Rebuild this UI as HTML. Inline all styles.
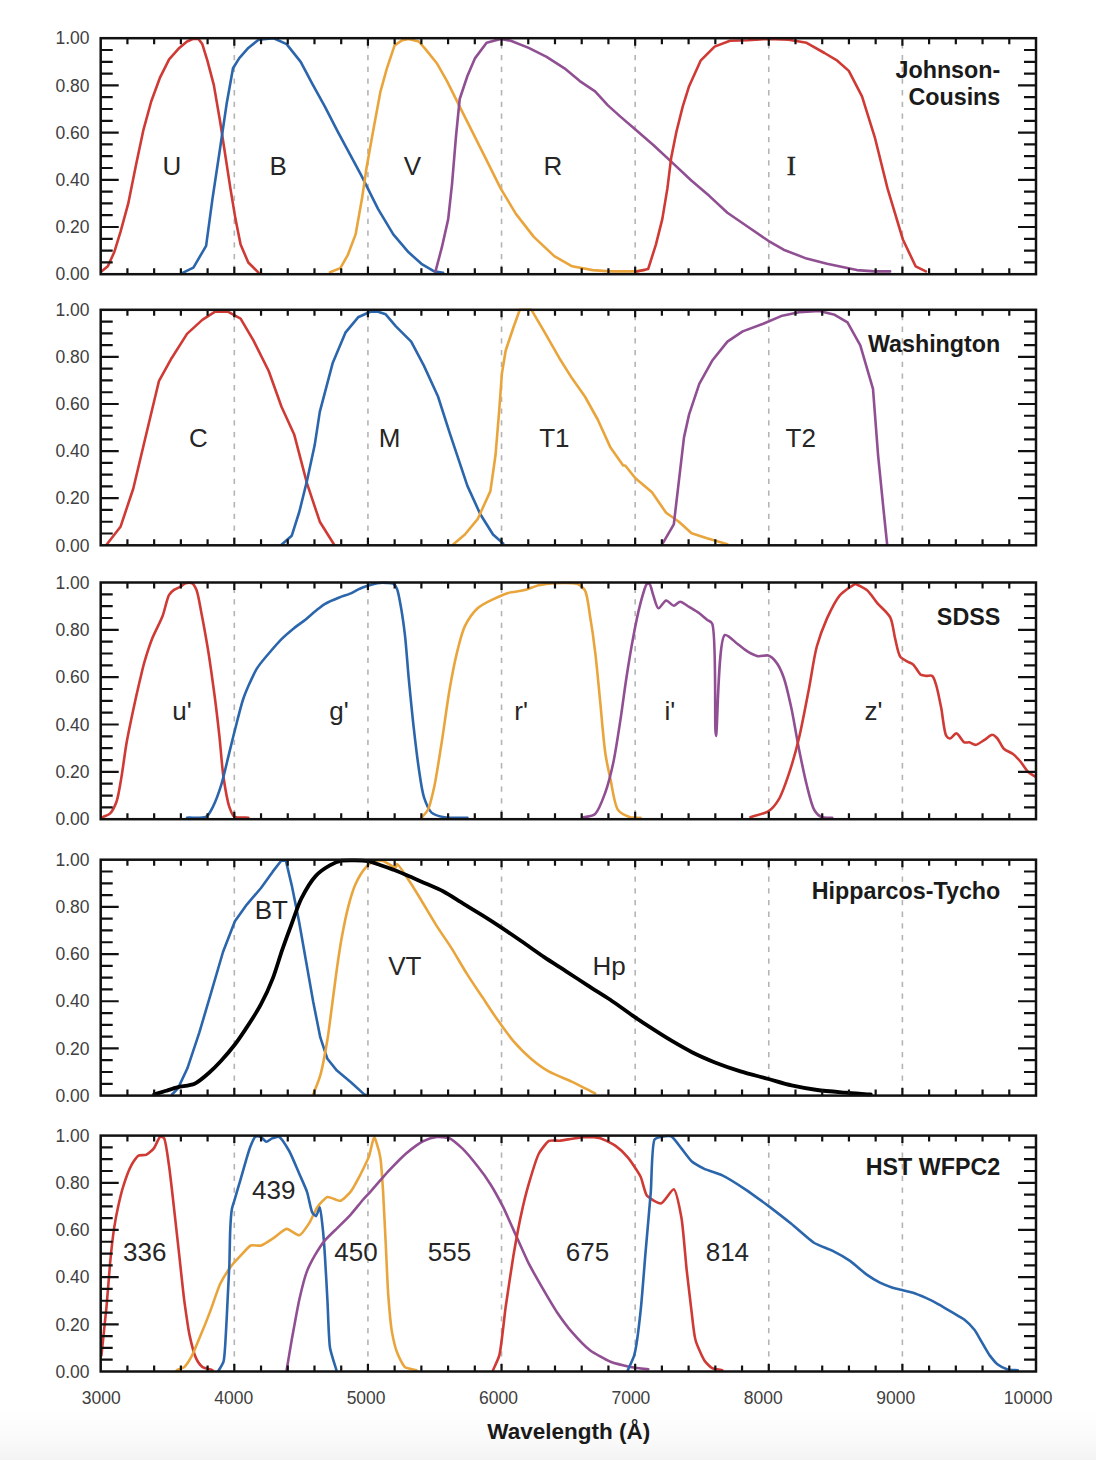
<!DOCTYPE html><html><head><meta charset="utf-8"><style>html,body{margin:0;padding:0;background:#fff;}body{width:1096px;height:1460px;overflow:hidden;position:relative;}svg{position:absolute;left:0;top:0;}</style></head><body>
<svg width="1096" height="1460" viewBox="0 0 1096 1460">
<defs><linearGradient id="bg" x1="0" y1="0" x2="0" y2="1"><stop offset="0" stop-color="#ffffff"/><stop offset="0.5" stop-color="#fbfbfb"/><stop offset="0.8" stop-color="#f7f7f7"/><stop offset="1" stop-color="#f3f3f3"/></linearGradient><clipPath id="clipR"><rect x="0" y="0" width="1059" height="1460"/></clipPath></defs>
<rect x="0" y="1410" width="1096" height="50" fill="url(#bg)"/>
<line x1="234.31" y1="38.20" x2="234.31" y2="274.20" stroke="#b4b4b4" stroke-width="1.6" stroke-dasharray="5.3 6.4" stroke-dashoffset="6.6"/>
<line x1="367.93" y1="38.20" x2="367.93" y2="274.20" stroke="#b4b4b4" stroke-width="1.6" stroke-dasharray="5.3 6.4" stroke-dashoffset="6.6"/>
<line x1="501.54" y1="38.20" x2="501.54" y2="274.20" stroke="#b4b4b4" stroke-width="1.6" stroke-dasharray="5.3 6.4" stroke-dashoffset="6.6"/>
<line x1="635.16" y1="38.20" x2="635.16" y2="274.20" stroke="#b4b4b4" stroke-width="1.6" stroke-dasharray="5.3 6.4" stroke-dashoffset="6.6"/>
<line x1="768.77" y1="38.20" x2="768.77" y2="274.20" stroke="#b4b4b4" stroke-width="1.6" stroke-dasharray="5.3 6.4" stroke-dashoffset="6.6"/>
<line x1="902.39" y1="38.20" x2="902.39" y2="274.20" stroke="#b4b4b4" stroke-width="1.6" stroke-dasharray="5.3 6.4" stroke-dashoffset="6.6"/>
<line x1="234.31" y1="309.80" x2="234.31" y2="545.30" stroke="#b4b4b4" stroke-width="1.6" stroke-dasharray="5.3 6.4" stroke-dashoffset="6.6"/>
<line x1="367.93" y1="309.80" x2="367.93" y2="545.30" stroke="#b4b4b4" stroke-width="1.6" stroke-dasharray="5.3 6.4" stroke-dashoffset="6.6"/>
<line x1="501.54" y1="309.80" x2="501.54" y2="545.30" stroke="#b4b4b4" stroke-width="1.6" stroke-dasharray="5.3 6.4" stroke-dashoffset="6.6"/>
<line x1="635.16" y1="309.80" x2="635.16" y2="545.30" stroke="#b4b4b4" stroke-width="1.6" stroke-dasharray="5.3 6.4" stroke-dashoffset="6.6"/>
<line x1="768.77" y1="309.80" x2="768.77" y2="545.30" stroke="#b4b4b4" stroke-width="1.6" stroke-dasharray="5.3 6.4" stroke-dashoffset="6.6"/>
<line x1="902.39" y1="309.80" x2="902.39" y2="545.30" stroke="#b4b4b4" stroke-width="1.6" stroke-dasharray="5.3 6.4" stroke-dashoffset="6.6"/>
<line x1="234.31" y1="582.50" x2="234.31" y2="819.20" stroke="#b4b4b4" stroke-width="1.6" stroke-dasharray="5.3 6.4" stroke-dashoffset="6.6"/>
<line x1="367.93" y1="582.50" x2="367.93" y2="819.20" stroke="#b4b4b4" stroke-width="1.6" stroke-dasharray="5.3 6.4" stroke-dashoffset="6.6"/>
<line x1="501.54" y1="582.50" x2="501.54" y2="819.20" stroke="#b4b4b4" stroke-width="1.6" stroke-dasharray="5.3 6.4" stroke-dashoffset="6.6"/>
<line x1="635.16" y1="582.50" x2="635.16" y2="819.20" stroke="#b4b4b4" stroke-width="1.6" stroke-dasharray="5.3 6.4" stroke-dashoffset="6.6"/>
<line x1="768.77" y1="582.50" x2="768.77" y2="819.20" stroke="#b4b4b4" stroke-width="1.6" stroke-dasharray="5.3 6.4" stroke-dashoffset="6.6"/>
<line x1="902.39" y1="582.50" x2="902.39" y2="819.20" stroke="#b4b4b4" stroke-width="1.6" stroke-dasharray="5.3 6.4" stroke-dashoffset="6.6"/>
<line x1="234.31" y1="859.70" x2="234.31" y2="1095.60" stroke="#b4b4b4" stroke-width="1.6" stroke-dasharray="5.3 6.4" stroke-dashoffset="6.6"/>
<line x1="367.93" y1="859.70" x2="367.93" y2="1095.60" stroke="#b4b4b4" stroke-width="1.6" stroke-dasharray="5.3 6.4" stroke-dashoffset="6.6"/>
<line x1="501.54" y1="859.70" x2="501.54" y2="1095.60" stroke="#b4b4b4" stroke-width="1.6" stroke-dasharray="5.3 6.4" stroke-dashoffset="6.6"/>
<line x1="635.16" y1="859.70" x2="635.16" y2="1095.60" stroke="#b4b4b4" stroke-width="1.6" stroke-dasharray="5.3 6.4" stroke-dashoffset="6.6"/>
<line x1="768.77" y1="859.70" x2="768.77" y2="1095.60" stroke="#b4b4b4" stroke-width="1.6" stroke-dasharray="5.3 6.4" stroke-dashoffset="6.6"/>
<line x1="902.39" y1="859.70" x2="902.39" y2="1095.60" stroke="#b4b4b4" stroke-width="1.6" stroke-dasharray="5.3 6.4" stroke-dashoffset="6.6"/>
<line x1="234.31" y1="1135.60" x2="234.31" y2="1371.50" stroke="#b4b4b4" stroke-width="1.6" stroke-dasharray="5.3 6.4" stroke-dashoffset="6.6"/>
<line x1="367.93" y1="1135.60" x2="367.93" y2="1371.50" stroke="#b4b4b4" stroke-width="1.6" stroke-dasharray="5.3 6.4" stroke-dashoffset="6.6"/>
<line x1="501.54" y1="1135.60" x2="501.54" y2="1371.50" stroke="#b4b4b4" stroke-width="1.6" stroke-dasharray="5.3 6.4" stroke-dashoffset="6.6"/>
<line x1="635.16" y1="1135.60" x2="635.16" y2="1371.50" stroke="#b4b4b4" stroke-width="1.6" stroke-dasharray="5.3 6.4" stroke-dashoffset="6.6"/>
<line x1="768.77" y1="1135.60" x2="768.77" y2="1371.50" stroke="#b4b4b4" stroke-width="1.6" stroke-dasharray="5.3 6.4" stroke-dashoffset="6.6"/>
<line x1="902.39" y1="1135.60" x2="902.39" y2="1371.50" stroke="#b4b4b4" stroke-width="1.6" stroke-dasharray="5.3 6.4" stroke-dashoffset="6.6"/>
<polyline points="101.4,271.4 107.8,266.3 114.2,252.3 120.5,231.8 128.2,203.7 135.9,165.4 143.5,129.6 151.2,101.5 160.1,77.3 169.1,59.4 179.3,47.9 187.0,41.5 193.4,38.9 198.5,38.9 202.3,44.1 207.4,60.7 213.8,84.9 220.2,122.0 225.3,155.2 230.4,188.4 235.5,219.1 240.6,244.6 248.3,262.5 258.5,272.7" fill="none" stroke="#cf3a35" stroke-width="2.6" stroke-linejoin="round" stroke-linecap="round"/>
<polyline points="183.1,272.7 193.4,267.6 206.1,245.9 212.5,198.6 220.2,147.5 226.6,104.1 233.0,68.3 239.3,58.1 248.3,47.9 258.5,39.7 273.8,38.2 286.6,44.1 300.7,61.9 312.2,83.6 324.9,106.6 338.0,132.2 350.4,155.2 361.4,175.6 378.0,208.8 393.3,234.4 408.6,252.3 421.4,263.8 434.2,271.4 443.1,272.7" fill="none" stroke="#2b65ac" stroke-width="2.6" stroke-linejoin="round" stroke-linecap="round"/>
<polyline points="330.0,272.2 340.3,268.1 347.9,254.8 355.6,234.4 362.0,198.6 366.5,168.0 372.9,132.2 380.5,91.3 386.9,68.3 394.6,45.3 402.3,40.2 408.6,38.9 418.9,41.5 426.5,50.4 436.8,63.2 447.0,81.1 459.7,106.6 472.5,132.2 485.3,157.7 500.6,188.4 515.9,213.9 533.8,236.9 554.3,256.1 572.2,266.3 592.6,270.1 610.5,271.4 635.4,271.4 644.4,270.1" fill="none" stroke="#e9a53c" stroke-width="2.6" stroke-linejoin="round" stroke-linecap="round"/>
<polyline points="435.5,271.4 441.9,247.2 448.2,219.1 452.1,183.3 455.9,137.3 459.7,99.0 467.4,76.0 475.1,58.1 486.6,42.8 500.6,38.9 510.8,40.7 528.7,47.9 546.6,56.8 564.5,68.3 579.8,81.1 595.1,91.3 607.9,105.4 620.7,116.9 635.4,129.6 653.3,145.0 671.2,161.6 691.6,180.7 709.5,196.1 727.4,212.7 747.8,226.7 768.3,240.8 783.6,249.7 806.6,258.6 827.0,263.8 844.9,267.6 856.9,270.1 874.8,271.4 890.1,271.4" fill="none" stroke="#904f92" stroke-width="2.6" stroke-linejoin="round" stroke-linecap="round"/>
<polyline points="636.7,271.4 648.2,268.9 655.9,244.6 662.3,219.1 667.4,188.4 671.2,157.7 676.3,132.2 682.7,106.6 689.1,86.2 700.6,60.7 714.6,46.6 730.0,40.7 747.8,40.2 768.3,38.9 788.7,39.7 806.6,42.8 824.5,53.0 837.3,60.7 848.8,70.9 862.0,96.4 874.8,137.3 887.5,188.4 902.9,239.5 915.6,266.3 925.9,271.4" fill="none" stroke="#cf3a35" stroke-width="2.6" stroke-linejoin="round" stroke-linecap="round"/>
<polyline points="106.5,544.7 120.5,526.8 133.3,488.5 146.1,434.8 158.9,381.2 171.6,358.2 187.0,333.9 202.3,319.9 215.1,311.7 227.8,311.7 240.6,318.6 253.4,340.3 268.7,371.0 281.5,406.7 294.3,434.8 307.0,483.4 319.8,521.7 333.9,544.2" fill="none" stroke="#cf3a35" stroke-width="2.6" stroke-linejoin="round" stroke-linecap="round"/>
<polyline points="281.5,544.7 291.7,535.8 299.4,511.5 307.0,480.8 314.7,445.1 319.8,411.9 332.6,363.3 345.4,332.7 358.1,317.3 370.3,311.7 378.0,311.7 385.7,314.3 395.9,326.3 411.2,341.6 424.0,365.9 438.0,396.5 449.5,432.3 459.7,462.9 467.4,485.9 480.2,514.0 493.0,534.5 503.2,543.4" fill="none" stroke="#2b65ac" stroke-width="2.6" stroke-linejoin="round" stroke-linecap="round"/>
<polyline points="453.4,544.2 464.9,534.5 477.6,519.2 490.4,491.1 495.5,455.3 499.3,409.3 501.9,373.5 505.7,350.5 513.4,327.5 519.8,309.7 531.3,309.7 544.1,331.4 559.4,358.2 572.2,378.6 584.9,396.5 597.7,419.5 610.5,447.6 623.2,465.5 625.2,465.5 635.4,478.3 652.0,492.3 666.1,512.8 678.9,521.7 691.6,533.2 707.0,538.3 727.4,544.2" fill="none" stroke="#e9a53c" stroke-width="2.6" stroke-linejoin="round" stroke-linecap="round"/>
<polyline points="662.3,544.2 673.8,524.3 678.9,480.8 684.0,437.4 689.1,414.4 699.3,383.8 712.1,360.8 727.4,341.6 742.7,331.4 763.2,323.7 781.1,316.1 798.9,312.2 819.4,310.9 834.7,314.8 847.5,322.4 860.3,345.4 873.0,388.9 878.1,455.3 883.2,506.4 887.1,544.2" fill="none" stroke="#904f92" stroke-width="2.6" stroke-linejoin="round" stroke-linecap="round"/>
<path d="M101.5,818.0C102.0,817.7 102.7,817.2 103.3,816.8C104.5,816.1 108.3,815.1 109.9,813.6C112.0,811.6 115.0,805.8 116.4,802.0C118.3,796.8 120.2,784.5 121.4,777.4C122.8,769.3 124.8,753.3 126.3,744.5C127.8,735.7 131.1,720.1 132.9,711.6C134.6,703.5 137.8,689.1 139.5,682.0C140.9,676.2 142.8,667.7 144.4,662.2C146.2,656.0 150.1,643.9 152.6,637.6C155.0,631.6 160.3,622.0 162.5,616.2C164.7,610.6 167.0,598.3 169.1,594.8C170.3,592.8 172.5,591.0 174.0,589.9C175.6,588.8 179.0,587.5 180.6,586.6C182.0,585.8 184.0,583.8 185.5,583.3C187.1,582.8 190.9,582.8 192.3,583.3C193.9,584.2 195.5,587.6 196.5,590.0C198.2,594.2 200.1,606.1 201.4,612.9C203.1,621.4 206.2,638.8 207.9,649.0C209.8,660.5 212.9,683.1 214.5,695.0C216.0,706.3 218.2,725.1 219.4,736.1C220.6,747.1 222.0,767.2 223.5,777.2C224.8,785.8 227.4,801.1 229.3,806.8C230.5,810.2 232.0,815.1 234.2,816.6C236.7,818.3 244.5,817.4 248.3,817.7" fill="none" stroke="#cf3a35" stroke-width="2.6" stroke-linejoin="round" stroke-linecap="round"/>
<path d="M187.0,817.7C192.1,817.4 202.8,818.6 206.3,816.6C209.1,815.0 211.2,810.0 212.9,806.8C215.2,802.3 219.1,791.8 221.1,785.4C223.5,777.6 227.1,761.4 229.3,752.6C231.5,743.8 235.5,727.3 237.5,719.7C239.1,713.8 241.3,704.8 242.9,700.0C244.3,695.7 247.0,689.2 248.8,685.1C250.8,680.6 254.7,671.9 257.5,667.6C260.2,663.4 265.9,656.8 269.2,653.0C272.5,649.1 278.8,641.9 282.3,638.4C285.4,635.3 290.8,630.8 294.0,628.2C297.1,625.7 302.7,621.8 305.7,619.4C308.5,617.1 313.2,612.8 315.9,610.7C318.3,608.8 322.0,605.7 324.7,604.1C328.0,602.1 335.7,598.9 339.3,597.5C342.2,596.3 346.8,595.0 349.5,593.9C352.3,592.7 357.1,589.9 359.7,588.8C361.9,587.8 365.5,586.5 367.7,585.8C370.1,585.0 374.7,583.6 377.2,583.2C379.6,582.8 383.8,582.8 386.0,582.9C388.0,583.0 391.8,582.8 393.3,583.6C394.7,584.4 396.1,587.0 396.9,588.8C398.1,591.4 399.2,597.6 400.0,601.9C401.3,608.5 403.7,624.6 404.8,633.8C406.1,644.4 407.5,665.1 408.6,677.2C409.9,690.3 412.3,715.4 413.8,728.3C415.1,739.8 417.4,759.3 418.9,769.2C420.1,777.4 421.9,791.0 424.0,797.3C425.6,802.1 428.7,809.9 431.6,812.6C434.3,815.0 440.4,816.5 444.4,817.2C449.6,818.2 461.3,817.6 467.4,817.7" fill="none" stroke="#2b65ac" stroke-width="2.6" stroke-linejoin="round" stroke-linecap="round"/>
<path d="M421.4,817.7C423.1,815.7 426.3,812.8 427.8,810.0C430.1,805.7 432.6,794.3 434.2,787.0C436.4,776.9 439.9,753.7 441.9,741.1C444.0,727.8 447.3,702.6 449.5,690.0C451.4,679.0 454.9,660.8 457.2,651.6C459.1,644.1 461.9,632.1 464.9,626.1C467.5,620.7 473.6,611.9 477.6,608.2C481.2,604.9 488.8,601.3 493.0,599.3C497.0,597.3 504.1,594.1 508.3,592.9C512.3,591.7 519.6,591.3 523.6,590.3C527.7,589.3 534.8,586.2 538.9,585.2C543.0,584.3 549.8,583.4 554.3,583.2C559.8,582.9 573.0,582.8 577.3,583.9C580.1,585.0 583.3,587.7 584.9,590.3C587.5,594.6 588.8,608.5 590.0,615.9C591.5,624.6 593.9,641.2 595.1,651.6C596.7,664.0 598.9,689.1 600.3,702.7C601.6,716.4 603.7,742.6 605.4,753.8C606.6,761.8 608.9,772.3 610.5,779.4C612.2,787.2 614.4,805.1 618.1,810.0C620.6,813.4 627.1,816.2 630.3,817.2C633.1,818.0 637.8,817.6 640.5,817.7" fill="none" stroke="#e9a53c" stroke-width="2.6" stroke-linejoin="round" stroke-linecap="round"/>
<path d="M582.4,817.7C585.8,816.7 592.3,816.3 595.1,813.9C598.9,810.6 603.1,798.4 605.4,792.2C607.9,785.2 611.2,772.5 613.0,764.1C615.4,753.3 618.9,730.0 620.7,718.1C622.4,706.9 624.8,687.9 626.5,677.2C628.1,666.8 631.0,648.9 632.9,638.9C634.7,629.1 638.4,611.1 640.5,603.1C642.2,597.1 645.1,585.3 646.9,583.9C647.6,583.5 648.9,583.5 649.5,583.9C650.8,584.9 652.2,592.3 653.3,595.4C654.5,598.8 656.6,607.8 658.4,608.2C660.1,608.6 664.0,600.8 666.1,600.5C668.1,600.4 671.8,605.6 673.8,605.7C675.5,605.7 678.3,601.8 680.1,601.8C682.3,601.8 686.6,605.5 689.1,606.9C691.7,608.5 696.8,611.5 699.3,613.3C701.6,615.0 705.1,618.2 707.0,619.7C708.5,620.9 710.9,621.3 712.1,623.5C716.9,632.8 714.1,735.9 715.9,735.9C717.6,736.0 717.9,638.3 724.9,635.0C727.6,633.8 734.4,641.7 737.6,644.0C740.5,646.1 745.0,650.0 747.8,651.6C750.5,653.2 755.3,655.8 758.1,656.2C760.7,656.7 765.9,654.7 768.3,655.5C770.6,656.2 774.1,659.5 775.9,661.9C778.4,664.9 781.8,672.3 783.6,677.2C786.1,683.9 789.4,699.1 791.3,707.8C793.5,717.9 796.8,738.2 798.9,748.7C800.9,758.6 804.4,775.8 806.6,784.5C808.5,791.9 811.5,805.5 814.3,810.0C816.0,812.9 819.5,816.2 821.9,817.2C824.3,818.2 829.4,817.6 832.2,817.7" fill="none" stroke="#904f92" stroke-width="2.6" stroke-linejoin="round" stroke-linecap="round"/>
<path d="M750.4,817.2C755.2,815.6 764.4,813.8 768.3,811.3C771.8,809.0 776.1,803.8 778.5,799.8C781.8,794.6 786.2,781.7 788.7,774.3C791.7,765.6 796.4,748.9 798.9,738.5C801.9,726.1 806.7,700.3 809.2,687.4C811.4,675.9 814.1,656.3 816.8,646.5C819.1,638.2 823.9,625.4 827.0,618.4C830.0,611.9 835.7,600.2 839.8,595.4C843.4,591.4 853.9,584.3 855.1,583.9C855.3,583.9 855.4,583.9 855.6,583.9C856.6,584.2 864.3,588.0 867.1,590.3C870.2,592.9 874.4,599.7 877.3,603.1C880.5,606.8 887.7,612.6 890.1,617.2C892.7,622.0 893.8,633.4 895.2,638.9C896.5,643.9 898.0,653.6 900.3,656.8C901.9,658.9 906.1,660.8 908.0,661.9C909.4,662.7 911.7,663.3 913.1,664.4C915.1,666.1 918.7,673.2 920.7,674.6C922.1,675.5 924.4,675.7 925.9,675.9C927.5,676.1 930.9,675.0 932.2,675.9C933.9,677.0 935.1,681.9 936.1,684.9C937.6,689.5 939.9,701.4 941.2,707.8C942.6,715.0 944.1,732.6 946.3,735.9C947.2,737.3 949.0,738.6 950.1,738.5C951.6,738.4 954.8,733.2 956.5,733.4C958.6,733.6 962.1,741.4 964.2,742.3C965.5,743.0 967.9,742.1 969.3,742.3C970.9,742.7 973.9,745.0 975.7,744.9C977.9,744.7 982.3,741.2 984.6,739.8C986.8,738.5 990.5,734.6 992.3,734.7C993.8,734.7 996.1,737.1 997.4,738.5C999.2,740.5 1001.6,746.6 1003.8,748.7C1005.8,750.6 1010.5,752.2 1012.7,753.8C1015.0,755.5 1018.4,759.2 1020.4,761.5C1022.5,764.0 1025.8,769.6 1028.0,771.7C1029.9,773.5 1033.7,775.5 1035.7,776.8" fill="none" stroke="#cf3a35" stroke-width="2.6" stroke-linejoin="round" stroke-linecap="round"/>
<polyline points="172.0,1094.5 178.0,1088.4 187.4,1068.3 199.3,1032.7 211.2,992.3 223.0,952.0 234.9,921.2 246.8,904.6 261.0,888.0 272.9,871.4 281.2,860.7 285.9,860.7 291.8,885.6 299.0,921.2 306.1,961.5 313.2,1001.8 320.3,1037.4 327.4,1058.8 336.9,1070.6 351.2,1082.5 364.2,1094.4 368.0,1095.5" fill="none" stroke="#2b65ac" stroke-width="2.6" stroke-linejoin="round" stroke-linecap="round"/>
<path d="M313.2,1094.4C315.1,1089.3 318.6,1081.3 320.3,1075.4C322.6,1067.5 325.8,1049.3 327.4,1039.8C329.0,1030.3 330.9,1013.7 332.2,1004.2C333.5,994.7 335.6,977.7 336.9,968.6C338.1,960.1 340.2,946.1 341.7,937.8C343.3,929.1 346.7,912.4 348.8,904.6C350.5,898.2 353.5,888.3 355.9,883.2C358.0,878.6 362.8,870.8 365.4,867.8C367.3,865.7 370.3,862.8 372.5,861.9C374.7,860.9 379.3,860.3 382.0,860.7C385.4,861.3 394.3,868.0 395.9,867.3C396.7,867.0 396.4,864.1 397.0,864.0C398.4,863.8 405.5,875.5 408.6,880.1C412.1,885.2 417.9,894.8 421.4,900.5C425.4,907.0 432.6,919.5 436.8,926.1C440.8,932.4 448.1,942.7 452.1,949.1C456.2,955.7 463.2,968.0 467.4,974.6C471.4,981.0 478.6,991.5 482.7,997.6C486.8,1003.8 493.9,1014.7 498.1,1020.6C502.1,1026.3 509.0,1035.9 513.4,1041.1C517.8,1046.1 526.3,1054.7 531.3,1058.9C535.9,1062.8 543.9,1068.7 549.2,1071.7C554.8,1074.9 566.1,1079.0 572.2,1081.9C578.3,1084.8 589.0,1090.4 595.1,1093.4" fill="none" stroke="#e9a53c" stroke-width="2.6" stroke-linejoin="round" stroke-linecap="round"/>
<path d="M154.2,1094.4C157.4,1093.4 162.9,1091.8 166.1,1090.8C169.3,1089.8 174.5,1088.1 178.0,1087.2C182.0,1086.2 190.5,1085.5 194.6,1083.7C198.8,1081.8 205.3,1076.1 208.8,1073.0C212.2,1070.0 217.5,1064.7 220.7,1061.2C224.4,1057.2 231.3,1049.2 234.9,1044.5C238.6,1039.7 244.5,1030.8 247.9,1025.6C251.5,1020.1 257.8,1010.3 261.0,1004.2C264.5,997.7 270.1,985.3 272.9,978.1C275.8,970.7 279.7,957.0 282.3,949.6C284.8,942.5 289.2,930.4 291.8,923.5C294.3,916.8 298.1,904.9 301.3,898.6C304.5,892.3 311.3,880.7 315.6,876.1C319.1,872.3 326.0,867.5 329.8,865.4C333.0,863.6 337.8,861.4 341.7,860.7C347.2,860.0 362.2,860.3 367.8,861.2C371.7,861.8 376.7,863.9 380.0,865.0C383.4,866.1 389.6,868.3 393.1,869.6C396.6,871.0 402.5,873.5 406.3,875.1C410.6,876.9 419.0,880.6 423.8,882.7C428.9,884.9 438.3,888.8 443.5,891.5C448.8,894.3 457.9,900.4 463.2,903.6C468.5,906.8 477.7,912.4 482.9,915.6C488.0,918.8 496.4,924.2 501.5,927.6C506.9,931.2 516.7,937.9 522.3,941.8C528.1,945.8 538.3,953.1 544.2,957.1C550.0,961.0 560.3,967.5 566.1,971.3C571.9,975.1 582.1,981.8 588.0,985.6C593.8,989.4 603.9,995.5 609.9,999.5C616.3,1003.8 628.6,1012.8 634.5,1016.9C639.3,1020.2 646.4,1024.9 651.1,1027.9C656.2,1031.2 666.0,1037.4 671.5,1040.7C676.9,1043.9 686.3,1049.3 692.0,1052.2C697.9,1055.2 708.7,1059.9 715.0,1062.4C721.6,1065.0 733.5,1069.2 740.5,1071.4C747.8,1073.7 761.5,1077.0 768.6,1079.0C775.0,1080.8 785.3,1084.0 791.6,1085.4C798.2,1086.9 810.2,1089.0 817.2,1090.0C824.5,1091.0 838.0,1092.0 845.3,1092.6C852.3,1093.2 864.0,1093.9 870.8,1094.4" fill="none" stroke="#000000" stroke-width="3.8" stroke-linejoin="round" stroke-linecap="round"/>
<path d="M101.4,1355.4C102.4,1345.7 105.6,1316.4 106.5,1306.8C107.4,1297.5 109.5,1269.3 110.3,1260.8C111.0,1253.7 113.3,1233.5 114.2,1227.6C114.9,1223.0 117.1,1211.3 118.0,1207.2C118.9,1203.1 121.8,1190.8 123.1,1186.8C124.4,1182.6 129.0,1169.7 130.8,1166.3C132.1,1163.7 136.6,1156.6 138.4,1155.6C139.8,1154.8 144.6,1155.4 146.1,1154.8C147.7,1154.1 152.4,1150.1 153.8,1148.4C155.3,1146.6 158.8,1137.5 160.1,1136.9C160.9,1136.7 163.3,1137.5 164.0,1138.2C165.7,1140.2 168.2,1160.1 169.1,1166.3C170.2,1174.0 173.2,1200.9 174.2,1209.8C175.2,1218.8 178.3,1246.5 179.3,1255.7C180.3,1264.9 183.3,1293.3 184.4,1301.7C185.4,1308.9 188.2,1328.9 189.5,1334.9C190.6,1340.0 194.3,1354.5 195.9,1357.9C197.0,1360.3 200.6,1365.6 202.3,1366.9C204.0,1368.1 210.5,1369.5 212.5,1370.2" fill="none" stroke="#cf3a35" stroke-width="2.6" stroke-linejoin="round" stroke-linecap="round"/>
<path d="M176.8,1370.2C178.3,1369.5 183.0,1368.0 184.4,1366.9C186.2,1365.4 190.7,1358.0 192.1,1355.4C193.8,1352.3 198.1,1341.4 199.7,1337.5C201.7,1332.8 208.0,1317.2 210.0,1311.9C212.1,1306.5 217.9,1288.6 220.2,1283.8C222.1,1280.0 228.2,1270.2 230.4,1267.2C232.3,1264.6 238.5,1257.9 240.6,1255.7C242.6,1253.6 248.6,1246.5 250.8,1245.5C252.7,1244.7 259.0,1246.1 261.1,1245.5C263.6,1244.8 271.3,1239.5 273.8,1237.9C276.4,1236.2 284.0,1229.1 286.6,1228.9C289.1,1228.7 297.1,1235.8 299.4,1235.3C301.8,1234.8 307.8,1225.3 309.6,1222.5C311.4,1219.7 315.4,1209.8 317.3,1207.2C319.0,1204.8 325.1,1197.6 327.5,1197.0C329.7,1196.4 338.0,1201.3 340.3,1200.8C342.6,1200.3 348.6,1194.2 350.5,1191.9C352.8,1189.1 358.8,1177.6 360.7,1174.0C362.5,1170.4 367.7,1159.8 369.1,1156.1C370.4,1152.4 373.2,1137.0 374.2,1136.9C374.7,1136.9 376.2,1141.8 376.7,1143.3C377.5,1145.7 380.0,1155.0 380.5,1158.7C381.4,1164.0 382.6,1184.5 383.1,1191.9C383.7,1201.0 385.1,1232.7 385.7,1243.0C386.2,1253.2 387.5,1284.6 388.2,1294.1C388.8,1302.3 390.9,1325.9 392.0,1332.4C392.9,1337.1 395.7,1349.2 397.2,1352.8C398.4,1356.0 402.7,1365.2 404.8,1366.9C406.7,1368.4 414.0,1369.5 416.3,1370.2" fill="none" stroke="#e9a53c" stroke-width="2.6" stroke-linejoin="round" stroke-linecap="round"/>
<path d="M218.5,1370.8C219.5,1369.0 222.8,1364.2 223.5,1361.7C224.8,1357.5 225.6,1337.6 226.0,1331.4C226.4,1324.9 227.4,1304.5 227.7,1297.8C228.0,1291.1 229.1,1270.9 229.4,1264.2C229.6,1257.5 229.9,1236.7 230.2,1230.7C230.4,1225.9 231.3,1212.2 231.9,1208.9C232.3,1206.8 233.8,1202.5 234.4,1200.5C235.3,1197.3 239.1,1184.3 240.3,1180.3C241.5,1176.3 245.0,1163.8 246.1,1160.2C247.0,1157.2 249.3,1149.3 250.3,1146.8C251.2,1144.6 254.1,1137.5 255.4,1136.7C256.3,1136.2 259.4,1136.3 260.4,1136.7C261.6,1137.1 265.1,1141.6 266.3,1141.7C267.4,1141.8 270.9,1138.9 272.1,1138.4C273.4,1137.9 277.6,1136.2 278.9,1136.7C281.0,1137.5 287.3,1147.7 289.2,1151.0C291.4,1154.9 297.5,1169.7 299.4,1174.0C301.0,1177.8 305.8,1188.1 307.0,1191.9C308.4,1195.8 310.8,1209.9 312.2,1212.3C312.8,1213.5 315.3,1216.3 316.0,1216.1C316.9,1216.0 319.2,1207.1 319.8,1207.2C320.6,1207.3 321.9,1221.0 322.4,1225.1C323.0,1230.4 324.5,1249.0 324.9,1255.7C325.5,1264.0 327.0,1292.5 327.5,1301.7C328.0,1310.9 328.8,1340.2 330.0,1347.7C330.9,1353.1 335.1,1365.7 336.4,1370.2" fill="none" stroke="#2b65ac" stroke-width="2.6" stroke-linejoin="round" stroke-linecap="round"/>
<path d="M286.6,1370.2C287.6,1364.2 290.6,1346.5 291.7,1340.0C293.1,1332.5 297.7,1306.5 299.4,1299.2C300.8,1293.0 305.2,1275.8 307.0,1271.1C308.4,1267.5 313.0,1258.7 314.7,1255.7C316.5,1252.6 322.6,1243.2 324.9,1240.4C327.2,1237.6 335.1,1230.2 337.7,1227.6C340.3,1225.1 348.0,1217.6 350.5,1214.9C353.1,1212.0 361.0,1202.0 363.2,1199.5C364.8,1197.7 368.6,1193.8 370.3,1191.9C373.1,1188.8 384.6,1175.3 388.2,1171.4C391.7,1167.7 402.4,1156.7 406.1,1153.5C409.6,1150.6 420.6,1142.4 424.0,1140.8C426.6,1139.5 434.2,1137.2 436.8,1136.9C439.3,1136.7 447.1,1137.2 449.5,1138.2C452.3,1139.3 459.7,1146.0 462.3,1148.4C465.4,1151.4 474.8,1162.7 477.6,1166.3C480.4,1169.8 488.0,1180.3 490.4,1184.2C493.1,1188.4 500.7,1202.3 503.2,1207.2C505.8,1212.5 513.4,1229.7 515.9,1235.3C518.5,1240.9 526.1,1258.1 528.7,1263.4C531.2,1268.3 538.8,1281.7 541.5,1286.4C544.4,1291.4 553.6,1307.2 556.8,1311.9C559.8,1316.3 568.8,1328.5 572.2,1332.4C575.5,1336.2 586.1,1347.3 590.0,1350.3C593.8,1353.1 606.3,1360.1 610.5,1361.8C614.4,1363.3 626.4,1366.1 630.3,1366.9C634.0,1367.6 644.6,1368.9 648.2,1369.4" fill="none" stroke="#904f92" stroke-width="2.6" stroke-linejoin="round" stroke-linecap="round"/>
<path d="M493.0,1370.2C494.2,1367.2 498.3,1359.3 499.3,1355.4C501.2,1348.6 504.3,1316.7 505.7,1306.8C507.2,1296.7 511.8,1265.4 513.4,1255.7C514.9,1247.1 519.4,1222.4 521.1,1214.9C522.5,1208.3 526.9,1190.3 528.7,1184.2C530.5,1178.0 536.4,1158.2 538.9,1153.5C540.7,1150.2 546.8,1141.9 549.2,1140.8C551.0,1139.9 557.2,1140.9 559.4,1140.8C561.8,1140.6 569.6,1139.1 572.2,1138.7C574.7,1138.3 582.3,1137.0 584.9,1136.9C587.8,1136.9 597.3,1137.4 600.3,1138.2C603.4,1139.1 612.8,1144.0 615.6,1145.9C618.3,1147.8 625.5,1154.6 627.8,1157.4C630.5,1160.6 638.6,1172.6 640.5,1176.5C642.4,1180.3 644.7,1193.0 646.9,1195.7C649.0,1198.1 658.4,1203.8 661.0,1203.4C663.8,1202.9 671.8,1188.8 673.8,1189.3C676.2,1189.9 680.2,1210.9 681.4,1217.4C683.0,1226.1 685.5,1258.7 686.5,1268.5C687.5,1277.6 690.7,1304.2 691.6,1311.9C692.4,1318.2 694.0,1335.0 695.5,1340.0C696.7,1344.6 702.4,1357.5 704.4,1360.5C705.8,1362.6 710.3,1367.2 712.1,1368.1C713.9,1369.1 720.3,1369.8 722.3,1370.2" fill="none" stroke="#cf3a35" stroke-width="2.6" stroke-linejoin="round" stroke-linecap="round"/>
<path d="M627.8,1370.2C629.1,1367.2 633.1,1359.2 634.2,1355.4C636.0,1349.1 639.5,1321.4 640.5,1311.9C641.8,1300.8 644.6,1262.8 645.7,1250.6C646.7,1238.7 649.9,1203.3 650.8,1191.9C651.6,1181.1 651.8,1143.3 654.6,1139.5C655.6,1138.1 659.5,1137.3 661.0,1136.9C662.8,1136.5 669.3,1135.9 671.2,1136.2C673.5,1137.2 679.4,1146.0 681.4,1148.4C683.5,1151.0 689.3,1159.1 691.6,1161.2C693.9,1163.2 701.6,1167.5 704.4,1168.9C707.6,1170.4 718.6,1173.5 722.3,1175.3C726.7,1177.4 740.8,1186.3 745.3,1189.3C750.0,1192.4 763.7,1202.5 768.3,1205.9C772.9,1209.4 786.7,1220.1 791.3,1223.8C795.9,1227.5 809.8,1240.2 814.3,1243.0C817.9,1245.2 828.6,1248.9 832.2,1250.6C835.8,1252.4 846.6,1258.5 850.0,1260.8C853.6,1263.3 863.8,1272.6 867.1,1274.9C869.8,1276.8 877.3,1281.3 879.9,1282.6C882.4,1283.8 890.2,1286.9 892.6,1287.7C894.8,1288.4 900.8,1289.7 902.9,1290.2C904.9,1290.7 910.9,1292.1 913.1,1292.8C915.5,1293.6 923.3,1296.8 925.9,1297.9C928.4,1299.0 936.1,1302.9 938.6,1304.3C941.2,1305.7 948.8,1310.4 951.4,1311.9C954.0,1313.5 961.9,1317.8 964.2,1319.6C966.5,1321.4 972.6,1327.5 974.4,1329.8C976.2,1332.1 980.5,1340.0 982.1,1342.6C983.6,1345.2 988.1,1353.1 989.7,1355.4C991.2,1357.4 995.6,1362.9 997.4,1364.3C999.2,1365.7 1005.5,1368.8 1007.6,1369.4C1009.6,1370.0 1015.8,1370.0 1017.8,1370.2" fill="none" stroke="#2b65ac" stroke-width="2.6" stroke-linejoin="round" stroke-linecap="round"/>
<path d="M100.70,262.40h12M1036.00,262.40h-12M100.70,250.60h12M1036.00,250.60h-12M100.70,238.80h12M1036.00,238.80h-12M100.70,227.00h18M1036.00,227.00h-18M100.70,215.20h12M1036.00,215.20h-12M100.70,203.40h12M1036.00,203.40h-12M100.70,191.60h12M1036.00,191.60h-12M100.70,179.80h18M1036.00,179.80h-18M100.70,168.00h12M1036.00,168.00h-12M100.70,156.20h12M1036.00,156.20h-12M100.70,144.40h12M1036.00,144.40h-12M100.70,132.60h18M1036.00,132.60h-18M100.70,120.80h12M1036.00,120.80h-12M100.70,109.00h12M1036.00,109.00h-12M100.70,97.20h12M1036.00,97.20h-12M100.70,85.40h18M1036.00,85.40h-18M100.70,73.60h12M1036.00,73.60h-12M100.70,61.80h12M1036.00,61.80h-12M100.70,50.00h12M1036.00,50.00h-12M127.42,274.20v-6M127.42,38.20v6M154.15,274.20v-6M154.15,38.20v6M180.87,274.20v-6M180.87,38.20v6M207.59,274.20v-6M207.59,38.20v6M234.31,274.20v-7.5M234.31,38.20v7.5M261.04,274.20v-6M261.04,38.20v6M287.76,274.20v-6M287.76,38.20v6M314.48,274.20v-6M314.48,38.20v6M341.21,274.20v-6M341.21,38.20v6M367.93,274.20v-7.5M367.93,38.20v7.5M394.65,274.20v-6M394.65,38.20v6M421.37,274.20v-6M421.37,38.20v6M448.10,274.20v-6M448.10,38.20v6M474.82,274.20v-6M474.82,38.20v6M501.54,274.20v-7.5M501.54,38.20v7.5M528.27,274.20v-6M528.27,38.20v6M554.99,274.20v-6M554.99,38.20v6M581.71,274.20v-6M581.71,38.20v6M608.43,274.20v-6M608.43,38.20v6M635.16,274.20v-7.5M635.16,38.20v7.5M661.88,274.20v-6M661.88,38.20v6M688.60,274.20v-6M688.60,38.20v6M715.33,274.20v-6M715.33,38.20v6M742.05,274.20v-6M742.05,38.20v6M768.77,274.20v-7.5M768.77,38.20v7.5M795.49,274.20v-6M795.49,38.20v6M822.22,274.20v-6M822.22,38.20v6M848.94,274.20v-6M848.94,38.20v6M875.66,274.20v-6M875.66,38.20v6M902.39,274.20v-7.5M902.39,38.20v7.5M929.11,274.20v-6M929.11,38.20v6M955.83,274.20v-6M955.83,38.20v6M982.55,274.20v-6M982.55,38.20v6M1009.28,274.20v-6M1009.28,38.20v6" stroke="#111" stroke-width="2.2" fill="none"/>
<rect x="100.70" y="38.20" width="935.30" height="236.00" fill="none" stroke="#111" stroke-width="2.5"/>
<text x="89.5" y="280.40" text-anchor="end" font-family="&quot;Liberation Sans&quot;, sans-serif" font-size="17.5" fill="#404040">0.00</text>
<text x="89.5" y="233.20" text-anchor="end" font-family="&quot;Liberation Sans&quot;, sans-serif" font-size="17.5" fill="#404040">0.20</text>
<text x="89.5" y="186.00" text-anchor="end" font-family="&quot;Liberation Sans&quot;, sans-serif" font-size="17.5" fill="#404040">0.40</text>
<text x="89.5" y="138.80" text-anchor="end" font-family="&quot;Liberation Sans&quot;, sans-serif" font-size="17.5" fill="#404040">0.60</text>
<text x="89.5" y="91.60" text-anchor="end" font-family="&quot;Liberation Sans&quot;, sans-serif" font-size="17.5" fill="#404040">0.80</text>
<text x="89.5" y="44.40" text-anchor="end" font-family="&quot;Liberation Sans&quot;, sans-serif" font-size="17.5" fill="#404040">1.00</text>
<text x="1000.3" y="77.8" text-anchor="end" font-family="&quot;Liberation Sans&quot;, sans-serif" font-weight="bold" font-size="23.3" fill="#1a1a1a">Johnson-</text>
<text x="1000.3" y="104.8" text-anchor="end" font-family="&quot;Liberation Sans&quot;, sans-serif" font-weight="bold" font-size="23.3" fill="#1a1a1a">Cousins</text>
<text x="171.8" y="175.20" text-anchor="middle" font-family="&quot;Liberation Sans&quot;, sans-serif" font-size="26" fill="#262626">U</text>
<text x="278.2" y="175.20" text-anchor="middle" font-family="&quot;Liberation Sans&quot;, sans-serif" font-size="26" fill="#262626">B</text>
<text x="412.5" y="175.20" text-anchor="middle" font-family="&quot;Liberation Sans&quot;, sans-serif" font-size="26" fill="#262626">V</text>
<text x="553.0" y="175.20" text-anchor="middle" font-family="&quot;Liberation Sans&quot;, sans-serif" font-size="26" fill="#262626">R</text>
<text x="791.3" y="175.20" text-anchor="middle" font-family="&quot;Liberation Serif&quot;, serif" font-size="27.5" fill="#262626" stroke="#262626" stroke-width="0.5">I</text>
<path d="M100.70,533.52h12M1036.00,533.52h-12M100.70,521.75h12M1036.00,521.75h-12M100.70,509.97h12M1036.00,509.97h-12M100.70,498.20h18M1036.00,498.20h-18M100.70,486.42h12M1036.00,486.42h-12M100.70,474.65h12M1036.00,474.65h-12M100.70,462.88h12M1036.00,462.88h-12M100.70,451.10h18M1036.00,451.10h-18M100.70,439.32h12M1036.00,439.32h-12M100.70,427.55h12M1036.00,427.55h-12M100.70,415.77h12M1036.00,415.77h-12M100.70,404.00h18M1036.00,404.00h-18M100.70,392.23h12M1036.00,392.23h-12M100.70,380.45h12M1036.00,380.45h-12M100.70,368.68h12M1036.00,368.68h-12M100.70,356.90h18M1036.00,356.90h-18M100.70,345.12h12M1036.00,345.12h-12M100.70,333.35h12M1036.00,333.35h-12M100.70,321.57h12M1036.00,321.57h-12M127.42,545.30v-6M127.42,309.80v6M154.15,545.30v-6M154.15,309.80v6M180.87,545.30v-6M180.87,309.80v6M207.59,545.30v-6M207.59,309.80v6M234.31,545.30v-7.5M234.31,309.80v7.5M261.04,545.30v-6M261.04,309.80v6M287.76,545.30v-6M287.76,309.80v6M314.48,545.30v-6M314.48,309.80v6M341.21,545.30v-6M341.21,309.80v6M367.93,545.30v-7.5M367.93,309.80v7.5M394.65,545.30v-6M394.65,309.80v6M421.37,545.30v-6M421.37,309.80v6M448.10,545.30v-6M448.10,309.80v6M474.82,545.30v-6M474.82,309.80v6M501.54,545.30v-7.5M501.54,309.80v7.5M528.27,545.30v-6M528.27,309.80v6M554.99,545.30v-6M554.99,309.80v6M581.71,545.30v-6M581.71,309.80v6M608.43,545.30v-6M608.43,309.80v6M635.16,545.30v-7.5M635.16,309.80v7.5M661.88,545.30v-6M661.88,309.80v6M688.60,545.30v-6M688.60,309.80v6M715.33,545.30v-6M715.33,309.80v6M742.05,545.30v-6M742.05,309.80v6M768.77,545.30v-7.5M768.77,309.80v7.5M795.49,545.30v-6M795.49,309.80v6M822.22,545.30v-6M822.22,309.80v6M848.94,545.30v-6M848.94,309.80v6M875.66,545.30v-6M875.66,309.80v6M902.39,545.30v-7.5M902.39,309.80v7.5M929.11,545.30v-6M929.11,309.80v6M955.83,545.30v-6M955.83,309.80v6M982.55,545.30v-6M982.55,309.80v6M1009.28,545.30v-6M1009.28,309.80v6" stroke="#111" stroke-width="2.2" fill="none"/>
<rect x="100.70" y="309.80" width="935.30" height="235.50" fill="none" stroke="#111" stroke-width="2.5"/>
<text x="89.5" y="551.50" text-anchor="end" font-family="&quot;Liberation Sans&quot;, sans-serif" font-size="17.5" fill="#404040">0.00</text>
<text x="89.5" y="504.40" text-anchor="end" font-family="&quot;Liberation Sans&quot;, sans-serif" font-size="17.5" fill="#404040">0.20</text>
<text x="89.5" y="457.30" text-anchor="end" font-family="&quot;Liberation Sans&quot;, sans-serif" font-size="17.5" fill="#404040">0.40</text>
<text x="89.5" y="410.20" text-anchor="end" font-family="&quot;Liberation Sans&quot;, sans-serif" font-size="17.5" fill="#404040">0.60</text>
<text x="89.5" y="363.10" text-anchor="end" font-family="&quot;Liberation Sans&quot;, sans-serif" font-size="17.5" fill="#404040">0.80</text>
<text x="89.5" y="316.00" text-anchor="end" font-family="&quot;Liberation Sans&quot;, sans-serif" font-size="17.5" fill="#404040">1.00</text>
<text x="1000.3" y="351.5" text-anchor="end" font-family="&quot;Liberation Sans&quot;, sans-serif" font-weight="bold" font-size="23.3" fill="#1a1a1a">Washington</text>
<text x="198.5" y="447.20" text-anchor="middle" font-family="&quot;Liberation Sans&quot;, sans-serif" font-size="26" fill="#262626">C</text>
<text x="389.5" y="447.20" text-anchor="middle" font-family="&quot;Liberation Sans&quot;, sans-serif" font-size="26" fill="#262626">M</text>
<text x="554.3" y="447.20" text-anchor="middle" font-family="&quot;Liberation Sans&quot;, sans-serif" font-size="26" fill="#262626">T1</text>
<text x="800.7" y="447.20" text-anchor="middle" font-family="&quot;Liberation Sans&quot;, sans-serif" font-size="26" fill="#262626">T2</text>
<path d="M100.70,807.37h12M1036.00,807.37h-12M100.70,795.53h12M1036.00,795.53h-12M100.70,783.70h12M1036.00,783.70h-12M100.70,771.86h18M1036.00,771.86h-18M100.70,760.03h12M1036.00,760.03h-12M100.70,748.19h12M1036.00,748.19h-12M100.70,736.36h12M1036.00,736.36h-12M100.70,724.52h18M1036.00,724.52h-18M100.70,712.69h12M1036.00,712.69h-12M100.70,700.85h12M1036.00,700.85h-12M100.70,689.01h12M1036.00,689.01h-12M100.70,677.18h18M1036.00,677.18h-18M100.70,665.35h12M1036.00,665.35h-12M100.70,653.51h12M1036.00,653.51h-12M100.70,641.67h12M1036.00,641.67h-12M100.70,629.84h18M1036.00,629.84h-18M100.70,618.00h12M1036.00,618.00h-12M100.70,606.17h12M1036.00,606.17h-12M100.70,594.34h12M1036.00,594.34h-12M127.42,819.20v-6M127.42,582.50v6M154.15,819.20v-6M154.15,582.50v6M180.87,819.20v-6M180.87,582.50v6M207.59,819.20v-6M207.59,582.50v6M234.31,819.20v-7.5M234.31,582.50v7.5M261.04,819.20v-6M261.04,582.50v6M287.76,819.20v-6M287.76,582.50v6M314.48,819.20v-6M314.48,582.50v6M341.21,819.20v-6M341.21,582.50v6M367.93,819.20v-7.5M367.93,582.50v7.5M394.65,819.20v-6M394.65,582.50v6M421.37,819.20v-6M421.37,582.50v6M448.10,819.20v-6M448.10,582.50v6M474.82,819.20v-6M474.82,582.50v6M501.54,819.20v-7.5M501.54,582.50v7.5M528.27,819.20v-6M528.27,582.50v6M554.99,819.20v-6M554.99,582.50v6M581.71,819.20v-6M581.71,582.50v6M608.43,819.20v-6M608.43,582.50v6M635.16,819.20v-7.5M635.16,582.50v7.5M661.88,819.20v-6M661.88,582.50v6M688.60,819.20v-6M688.60,582.50v6M715.33,819.20v-6M715.33,582.50v6M742.05,819.20v-6M742.05,582.50v6M768.77,819.20v-7.5M768.77,582.50v7.5M795.49,819.20v-6M795.49,582.50v6M822.22,819.20v-6M822.22,582.50v6M848.94,819.20v-6M848.94,582.50v6M875.66,819.20v-6M875.66,582.50v6M902.39,819.20v-7.5M902.39,582.50v7.5M929.11,819.20v-6M929.11,582.50v6M955.83,819.20v-6M955.83,582.50v6M982.55,819.20v-6M982.55,582.50v6M1009.28,819.20v-6M1009.28,582.50v6" stroke="#111" stroke-width="2.2" fill="none"/>
<rect x="100.70" y="582.50" width="935.30" height="236.70" fill="none" stroke="#111" stroke-width="2.5"/>
<text x="89.5" y="825.40" text-anchor="end" font-family="&quot;Liberation Sans&quot;, sans-serif" font-size="17.5" fill="#404040">0.00</text>
<text x="89.5" y="778.06" text-anchor="end" font-family="&quot;Liberation Sans&quot;, sans-serif" font-size="17.5" fill="#404040">0.20</text>
<text x="89.5" y="730.72" text-anchor="end" font-family="&quot;Liberation Sans&quot;, sans-serif" font-size="17.5" fill="#404040">0.40</text>
<text x="89.5" y="683.38" text-anchor="end" font-family="&quot;Liberation Sans&quot;, sans-serif" font-size="17.5" fill="#404040">0.60</text>
<text x="89.5" y="636.04" text-anchor="end" font-family="&quot;Liberation Sans&quot;, sans-serif" font-size="17.5" fill="#404040">0.80</text>
<text x="89.5" y="588.70" text-anchor="end" font-family="&quot;Liberation Sans&quot;, sans-serif" font-size="17.5" fill="#404040">1.00</text>
<text x="1000.3" y="624.8" text-anchor="end" font-family="&quot;Liberation Sans&quot;, sans-serif" font-weight="bold" font-size="23.3" fill="#1a1a1a">SDSS</text>
<text x="181.9" y="719.50" text-anchor="middle" font-family="&quot;Liberation Sans&quot;, sans-serif" font-size="26" fill="#262626">u'</text>
<text x="339.0" y="719.50" text-anchor="middle" font-family="&quot;Liberation Sans&quot;, sans-serif" font-size="26" fill="#262626">g'</text>
<text x="521.1" y="719.50" text-anchor="middle" font-family="&quot;Liberation Sans&quot;, sans-serif" font-size="26" fill="#262626">r'</text>
<text x="669.9" y="719.50" text-anchor="middle" font-family="&quot;Liberation Sans&quot;, sans-serif" font-size="26" fill="#262626">i'</text>
<text x="873.6" y="719.50" text-anchor="middle" font-family="&quot;Liberation Sans&quot;, sans-serif" font-size="26" fill="#262626">z'</text>
<path d="M100.70,1083.80h12M1036.00,1083.80h-12M100.70,1072.01h12M1036.00,1072.01h-12M100.70,1060.21h12M1036.00,1060.21h-12M100.70,1048.42h18M1036.00,1048.42h-18M100.70,1036.62h12M1036.00,1036.62h-12M100.70,1024.83h12M1036.00,1024.83h-12M100.70,1013.03h12M1036.00,1013.03h-12M100.70,1001.24h18M1036.00,1001.24h-18M100.70,989.44h12M1036.00,989.44h-12M100.70,977.65h12M1036.00,977.65h-12M100.70,965.86h12M1036.00,965.86h-12M100.70,954.06h18M1036.00,954.06h-18M100.70,942.26h12M1036.00,942.26h-12M100.70,930.47h12M1036.00,930.47h-12M100.70,918.67h12M1036.00,918.67h-12M100.70,906.88h18M1036.00,906.88h-18M100.70,895.09h12M1036.00,895.09h-12M100.70,883.29h12M1036.00,883.29h-12M100.70,871.50h12M1036.00,871.50h-12M127.42,1095.60v-6M127.42,859.70v6M154.15,1095.60v-6M154.15,859.70v6M180.87,1095.60v-6M180.87,859.70v6M207.59,1095.60v-6M207.59,859.70v6M234.31,1095.60v-7.5M234.31,859.70v7.5M261.04,1095.60v-6M261.04,859.70v6M287.76,1095.60v-6M287.76,859.70v6M314.48,1095.60v-6M314.48,859.70v6M341.21,1095.60v-6M341.21,859.70v6M367.93,1095.60v-7.5M367.93,859.70v7.5M394.65,1095.60v-6M394.65,859.70v6M421.37,1095.60v-6M421.37,859.70v6M448.10,1095.60v-6M448.10,859.70v6M474.82,1095.60v-6M474.82,859.70v6M501.54,1095.60v-7.5M501.54,859.70v7.5M528.27,1095.60v-6M528.27,859.70v6M554.99,1095.60v-6M554.99,859.70v6M581.71,1095.60v-6M581.71,859.70v6M608.43,1095.60v-6M608.43,859.70v6M635.16,1095.60v-7.5M635.16,859.70v7.5M661.88,1095.60v-6M661.88,859.70v6M688.60,1095.60v-6M688.60,859.70v6M715.33,1095.60v-6M715.33,859.70v6M742.05,1095.60v-6M742.05,859.70v6M768.77,1095.60v-7.5M768.77,859.70v7.5M795.49,1095.60v-6M795.49,859.70v6M822.22,1095.60v-6M822.22,859.70v6M848.94,1095.60v-6M848.94,859.70v6M875.66,1095.60v-6M875.66,859.70v6M902.39,1095.60v-7.5M902.39,859.70v7.5M929.11,1095.60v-6M929.11,859.70v6M955.83,1095.60v-6M955.83,859.70v6M982.55,1095.60v-6M982.55,859.70v6M1009.28,1095.60v-6M1009.28,859.70v6" stroke="#111" stroke-width="2.2" fill="none"/>
<rect x="100.70" y="859.70" width="935.30" height="235.90" fill="none" stroke="#111" stroke-width="2.5"/>
<text x="89.5" y="1101.80" text-anchor="end" font-family="&quot;Liberation Sans&quot;, sans-serif" font-size="17.5" fill="#404040">0.00</text>
<text x="89.5" y="1054.62" text-anchor="end" font-family="&quot;Liberation Sans&quot;, sans-serif" font-size="17.5" fill="#404040">0.20</text>
<text x="89.5" y="1007.44" text-anchor="end" font-family="&quot;Liberation Sans&quot;, sans-serif" font-size="17.5" fill="#404040">0.40</text>
<text x="89.5" y="960.26" text-anchor="end" font-family="&quot;Liberation Sans&quot;, sans-serif" font-size="17.5" fill="#404040">0.60</text>
<text x="89.5" y="913.08" text-anchor="end" font-family="&quot;Liberation Sans&quot;, sans-serif" font-size="17.5" fill="#404040">0.80</text>
<text x="89.5" y="865.90" text-anchor="end" font-family="&quot;Liberation Sans&quot;, sans-serif" font-size="17.5" fill="#404040">1.00</text>
<text x="1000.3" y="899.0" text-anchor="end" font-family="&quot;Liberation Sans&quot;, sans-serif" font-weight="bold" font-size="23.3" fill="#1a1a1a">Hipparcos-Tycho</text>
<text x="271.3" y="918.70" text-anchor="middle" font-family="&quot;Liberation Sans&quot;, sans-serif" font-size="26" fill="#262626">BT</text>
<text x="404.8" y="974.70" text-anchor="middle" font-family="&quot;Liberation Sans&quot;, sans-serif" font-size="26" fill="#262626">VT</text>
<text x="609.2" y="974.70" text-anchor="middle" font-family="&quot;Liberation Sans&quot;, sans-serif" font-size="26" fill="#262626">Hp</text>
<path d="M100.70,1359.70h12M1036.00,1359.70h-12M100.70,1347.91h12M1036.00,1347.91h-12M100.70,1336.12h12M1036.00,1336.12h-12M100.70,1324.32h18M1036.00,1324.32h-18M100.70,1312.53h12M1036.00,1312.53h-12M100.70,1300.73h12M1036.00,1300.73h-12M100.70,1288.93h12M1036.00,1288.93h-12M100.70,1277.14h18M1036.00,1277.14h-18M100.70,1265.35h12M1036.00,1265.35h-12M100.70,1253.55h12M1036.00,1253.55h-12M100.70,1241.75h12M1036.00,1241.75h-12M100.70,1229.96h18M1036.00,1229.96h-18M100.70,1218.16h12M1036.00,1218.16h-12M100.70,1206.37h12M1036.00,1206.37h-12M100.70,1194.57h12M1036.00,1194.57h-12M100.70,1182.78h18M1036.00,1182.78h-18M100.70,1170.98h12M1036.00,1170.98h-12M100.70,1159.19h12M1036.00,1159.19h-12M100.70,1147.39h12M1036.00,1147.39h-12M127.42,1371.50v-6M127.42,1135.60v6M154.15,1371.50v-6M154.15,1135.60v6M180.87,1371.50v-6M180.87,1135.60v6M207.59,1371.50v-6M207.59,1135.60v6M234.31,1371.50v-7.5M234.31,1135.60v7.5M261.04,1371.50v-6M261.04,1135.60v6M287.76,1371.50v-6M287.76,1135.60v6M314.48,1371.50v-6M314.48,1135.60v6M341.21,1371.50v-6M341.21,1135.60v6M367.93,1371.50v-7.5M367.93,1135.60v7.5M394.65,1371.50v-6M394.65,1135.60v6M421.37,1371.50v-6M421.37,1135.60v6M448.10,1371.50v-6M448.10,1135.60v6M474.82,1371.50v-6M474.82,1135.60v6M501.54,1371.50v-7.5M501.54,1135.60v7.5M528.27,1371.50v-6M528.27,1135.60v6M554.99,1371.50v-6M554.99,1135.60v6M581.71,1371.50v-6M581.71,1135.60v6M608.43,1371.50v-6M608.43,1135.60v6M635.16,1371.50v-7.5M635.16,1135.60v7.5M661.88,1371.50v-6M661.88,1135.60v6M688.60,1371.50v-6M688.60,1135.60v6M715.33,1371.50v-6M715.33,1135.60v6M742.05,1371.50v-6M742.05,1135.60v6M768.77,1371.50v-7.5M768.77,1135.60v7.5M795.49,1371.50v-6M795.49,1135.60v6M822.22,1371.50v-6M822.22,1135.60v6M848.94,1371.50v-6M848.94,1135.60v6M875.66,1371.50v-6M875.66,1135.60v6M902.39,1371.50v-7.5M902.39,1135.60v7.5M929.11,1371.50v-6M929.11,1135.60v6M955.83,1371.50v-6M955.83,1135.60v6M982.55,1371.50v-6M982.55,1135.60v6M1009.28,1371.50v-6M1009.28,1135.60v6" stroke="#111" stroke-width="2.2" fill="none"/>
<rect x="100.70" y="1135.60" width="935.30" height="235.90" fill="none" stroke="#111" stroke-width="2.5"/>
<text x="89.5" y="1377.70" text-anchor="end" font-family="&quot;Liberation Sans&quot;, sans-serif" font-size="17.5" fill="#404040">0.00</text>
<text x="89.5" y="1330.52" text-anchor="end" font-family="&quot;Liberation Sans&quot;, sans-serif" font-size="17.5" fill="#404040">0.20</text>
<text x="89.5" y="1283.34" text-anchor="end" font-family="&quot;Liberation Sans&quot;, sans-serif" font-size="17.5" fill="#404040">0.40</text>
<text x="89.5" y="1236.16" text-anchor="end" font-family="&quot;Liberation Sans&quot;, sans-serif" font-size="17.5" fill="#404040">0.60</text>
<text x="89.5" y="1188.98" text-anchor="end" font-family="&quot;Liberation Sans&quot;, sans-serif" font-size="17.5" fill="#404040">0.80</text>
<text x="89.5" y="1141.80" text-anchor="end" font-family="&quot;Liberation Sans&quot;, sans-serif" font-size="17.5" fill="#404040">1.00</text>
<text x="1000.3" y="1174.5" text-anchor="end" font-family="&quot;Liberation Sans&quot;, sans-serif" font-weight="bold" font-size="23.3" fill="#1a1a1a">HST WFPC2</text>
<text x="144.8" y="1261.10" text-anchor="middle" font-family="&quot;Liberation Sans&quot;, sans-serif" font-size="26" fill="#262626">336</text>
<text x="273.8" y="1198.50" text-anchor="middle" font-family="&quot;Liberation Sans&quot;, sans-serif" font-size="26" fill="#262626">439</text>
<text x="356.0" y="1261.10" text-anchor="middle" font-family="&quot;Liberation Sans&quot;, sans-serif" font-size="26" fill="#262626">450</text>
<text x="449.5" y="1261.10" text-anchor="middle" font-family="&quot;Liberation Sans&quot;, sans-serif" font-size="26" fill="#262626">555</text>
<text x="587.5" y="1261.10" text-anchor="middle" font-family="&quot;Liberation Sans&quot;, sans-serif" font-size="26" fill="#262626">675</text>
<text x="727.4" y="1261.10" text-anchor="middle" font-family="&quot;Liberation Sans&quot;, sans-serif" font-size="26" fill="#262626">814</text>
<g clip-path="url(#clipR)">
<text x="101.30" y="1404.2" text-anchor="middle" font-family="&quot;Liberation Sans&quot;, sans-serif" font-size="17.5" fill="#404040">3000</text>
<text x="233.70" y="1404.2" text-anchor="middle" font-family="&quot;Liberation Sans&quot;, sans-serif" font-size="17.5" fill="#404040">4000</text>
<text x="366.10" y="1404.2" text-anchor="middle" font-family="&quot;Liberation Sans&quot;, sans-serif" font-size="17.5" fill="#404040">5000</text>
<text x="498.50" y="1404.2" text-anchor="middle" font-family="&quot;Liberation Sans&quot;, sans-serif" font-size="17.5" fill="#404040">6000</text>
<text x="630.90" y="1404.2" text-anchor="middle" font-family="&quot;Liberation Sans&quot;, sans-serif" font-size="17.5" fill="#404040">7000</text>
<text x="763.30" y="1404.2" text-anchor="middle" font-family="&quot;Liberation Sans&quot;, sans-serif" font-size="17.5" fill="#404040">8000</text>
<text x="895.70" y="1404.2" text-anchor="middle" font-family="&quot;Liberation Sans&quot;, sans-serif" font-size="17.5" fill="#404040">9000</text>
<text x="1028.10" y="1404.2" text-anchor="middle" font-family="&quot;Liberation Sans&quot;, sans-serif" font-size="17.5" fill="#404040">10000</text>
</g>
<text x="568.8" y="1439.3" text-anchor="middle" font-family="&quot;Liberation Sans&quot;, sans-serif" font-weight="bold" font-size="22.5" fill="#1a1a1a">Wavelength (Å)</text>
</svg></body></html>
